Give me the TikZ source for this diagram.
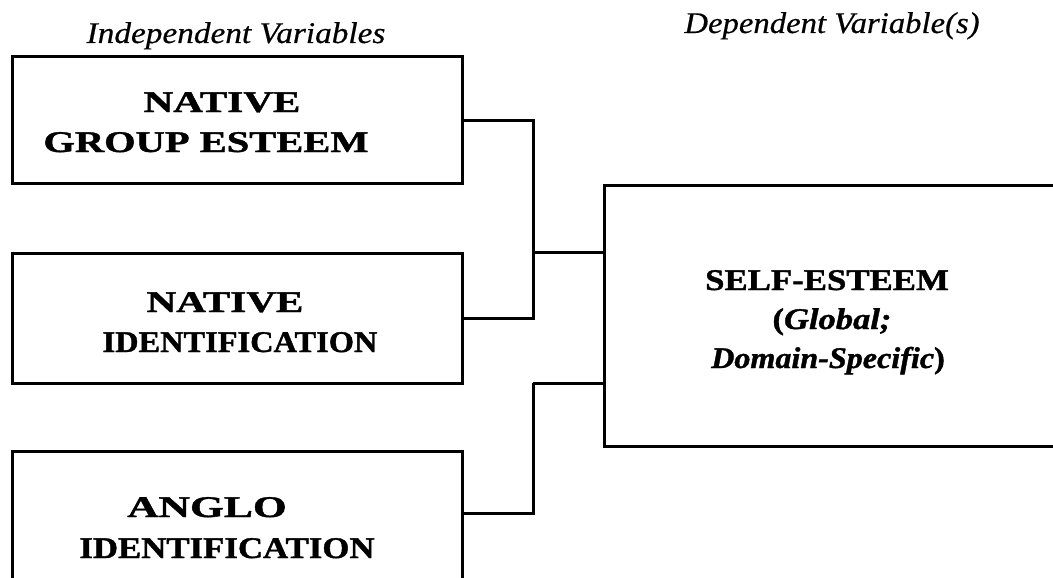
\documentclass[tikz,border=0pt]{standalone}
\usepackage{fontspec}
\setmainfont{Liberation Serif}[
  BoldFeatures={FakeBold=1.2},
  BoldItalicFeatures={FakeBold=1.2},
  ItalicFeatures={FakeBold=0.5}]
\newcommand{\sx}[2]{\scalebox{#1}[1]{#2}}
\tikzset{
  box/.style={draw, line width=3pt, inner sep=0pt, outer sep=0pt},
  conn/.style={line width=3pt},
  lbl/.style={anchor=base, inner sep=0pt, font=\fontsize{30}{40}\selectfont\bfseries},
  hdr/.style={anchor=base, inner sep=0pt, font=\fontsize{30}{40}\selectfont\itshape}
}
\begin{document}
\begin{tikzpicture}[x=1pt,y=-1pt]
\useasboundingbox (0,0) rectangle (1053,578);
\clip (0,0) rectangle (1053,578);
% headers
\node[hdr] (hi) at (236,43) {\sx{1.11}{Independent Variables}};
\node[hdr] (hd) at (832,33) {\sx{1.09}{Dependent Variable(s)}};
% boxes
\node[box, minimum width=450pt, minimum height=126pt] (b1) at (237,120) {};
\node[box, minimum width=450pt, minimum height=130pt] (b2) at (237,318) {};
\node[box, minimum width=450pt, minimum height=160pt] (b3) at (237,531) {};
\node[box, minimum width=460pt, minimum height=261pt] (se) at (834,315.5) {};
% box texts
\node[lbl] (t1a) at (222,112) {\sx{1.37}{NATIVE}};
\node[lbl] (t1b) at (206,152) {\sx{1.35}{GROUP ESTEEM}};
\node[lbl] (t2a) at (225,312) {\sx{1.37}{NATIVE}};
\node[lbl] (t2b) at (240,352) {\sx{1.08}{IDENTIFICATION}};
\node[lbl] (t3a) at (207,517) {\sx{1.45}{ANGLO}};
\node[lbl] (t3b) at (227,558) {\sx{1.16}{IDENTIFICATION}};
\node[lbl] (s1) at (827,290) {\sx{1.16}{SELF-ESTEEM}};
\node[lbl] (s2) at (832,329) {\sx{1.15}{(\textit{Global;}}};
\node[lbl] (s3) at (828,368) {\sx{1.07}{\textit{Domain-Specific})}};
% junctions
\coordinate (jA) at (533,252);
\coordinate (jB) at (533,383);
\coordinate (b3c) at (462,513);
% connectors
\draw[conn] (b1.east) -| (jA);
\draw[conn] (b2.east) -| (jA);
\draw[conn] (jA) -- (se.west |- jA);
\draw[conn] (b3c) -| (jB);
\draw[conn] (jB) -- (se.west |- jB);
\end{tikzpicture}
\end{document}
